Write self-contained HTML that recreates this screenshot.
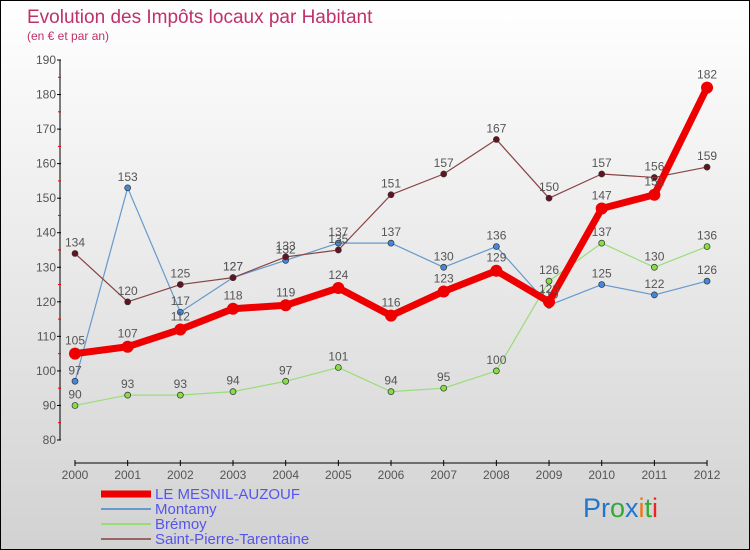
<!DOCTYPE html>
<html><head><meta charset="utf-8"><style>
body{margin:0}
#c{position:relative;width:748px;height:548px;border:1px solid #000;background:linear-gradient(#fff,#d2d2d2);font-family:"Liberation Sans","DejaVu Sans",sans-serif;overflow:hidden}
</style></head><body>
<div id="c">
<svg id="s" width="748" height="548"></svg>
</div>
<script>
const years=["2000","2001","2002","2003","2004","2005","2006","2007","2008","2009","2010","2011","2012"];
const yTicks=[80,90,100,110,120,130,140,150,160,170,180,190];
const mesnil=[105,107,112,118,119,124,116,123,129,120,147,151,182];
const montamy=[97,153,117,127,132,137,137,130,136,119,125,122,126];
const bremoy=[90,93,93,94,97,101,94,95,100,126,137,130,136];
const stpierre=[134,120,125,127,133,135,151,157,167,150,157,156,159];
const NS="http://www.w3.org/2000/svg",s=document.getElementById('s');
const X=i=>74+i*52.67, Y=v=>439-(v-80)*3.4545;
function el(t,a,p){const e=document.createElementNS(NS,t);for(const k in a)e.setAttribute(k,a[k]);(p||s).appendChild(e);return e;}
let t=el('text',{x:26,y:22,'font-size':19,fill:'#c0306a'});t.textContent='Evolution des Impôts locaux par Habitant';

t=el('text',{x:26,y:39,'font-size':12,fill:'#c0306a'});t.textContent='(en € et par an)';

let a=el('line',{x1:59,y1:Y(190),x2:59,y2:Y(80),stroke:'#000'});
a=el('line',{x1:74,y1:462,x2:706,y2:462,stroke:'#000'});
yTicks.forEach(v=>{el('line',{x1:56,y1:Y(v),x2:60,y2:Y(v),stroke:'#000'});
 if(v<190)el('line',{x1:57,y1:Y(v+5),x2:60,y2:Y(v+5),stroke:'#e00'});
 const l=el('text',{x:55,y:Y(v)+4,'font-size':12,fill:'#555','text-anchor':'end'});l.textContent=v;
 });
years.forEach((y,i)=>{el('line',{x1:X(i),y1:459,x2:X(i),y2:465,stroke:'#000'});
 const l=el('text',{x:X(i),y:478,'font-size':12,fill:'#555','text-anchor':'middle'});l.textContent=y;
 });
function series(d,col,w,r,name,dot){
 const p=el('polyline',{points:d.map((v,i)=>X(i)+','+Y(v)).join(' '),fill:'none',stroke:col,'stroke-width':w,'stroke-linejoin':'round'});
 
 d.forEach((v,i)=>{const c=el('circle',{cx:X(i),cy:Y(v),r:r,fill:dot,stroke:'#333','stroke-width':r>5?0:0.7});
  
  const l=el('text',{x:X(i),y:Y(v)-(r>5?9:7),'font-size':12,fill:'#555','text-anchor':'middle'});l.textContent=v;
  });
}
series(bremoy,'#99dd77',1.2,3,'bremoy','#88dd44');
series(montamy,'#6699cc',1.2,3,'montamy','#4488dd');
series(stpierre,'#884444',1.2,3,'saint-pierre','#661122');
series(mesnil,'#ee0000',7,6,'le-mesnil','#ee0000');
const leg=[["LE MESNIL-AUZOUF","#ee0000",7],["Montamy","#6699cc",2],["Brémoy","#99dd77",2],["Saint-Pierre-Tarentaine","#996666",2]];
leg.forEach((L,i)=>{const y=493+i*15;
 const ln=el('line',{x1:100,y1:y,x2:150,y2:y,stroke:L[1],'stroke-width':L[2]});
 
 const tx=el('text',{x:154,y:y+5,'font-size':15,fill:'#5555ee'});tx.textContent=L[0];
 });
const lg=el('text',{x:582,y:516,'font-size':27});

[["Pr","#2277cc"],["o","#33aa33"],["x","#2277cc"],["i","#ee7711"],["t","#33aa33"],["i","#ee2222"]].forEach(p=>{const ts=el('tspan',{fill:p[1]},lg);ts.textContent=p[0];});
</script>
</body></html>
